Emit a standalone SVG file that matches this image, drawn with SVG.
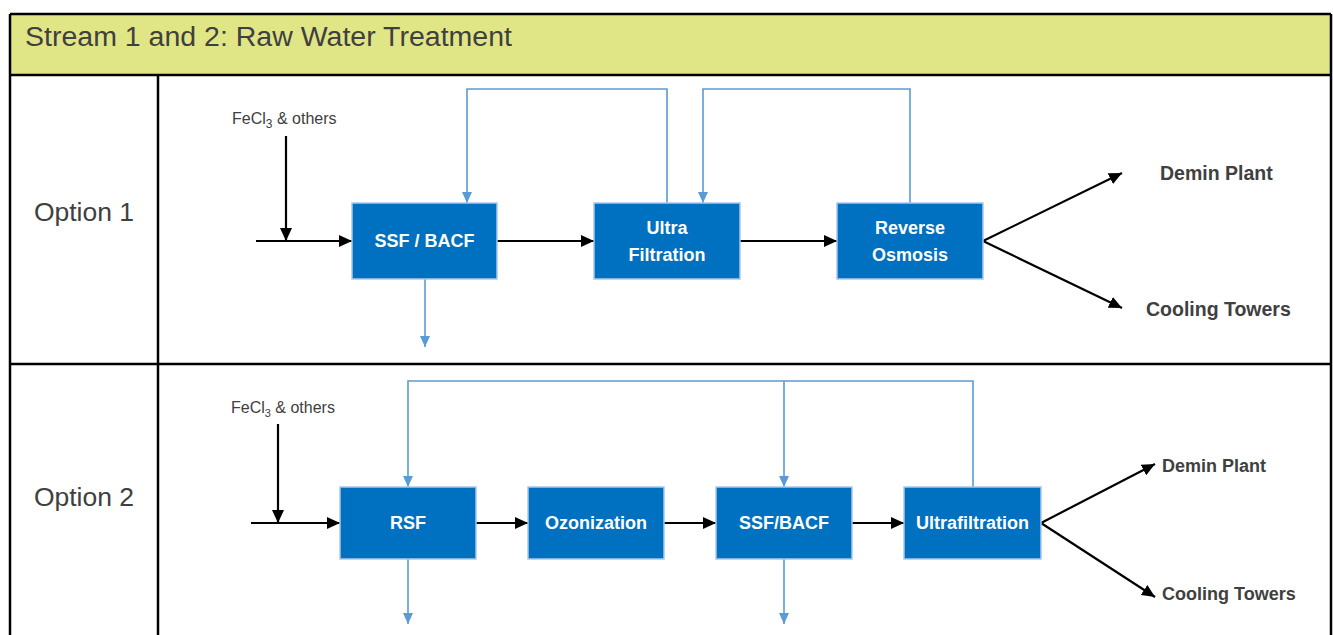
<svg xmlns="http://www.w3.org/2000/svg" width="1333" height="635" viewBox="0 0 1333 635">
  <style>
    .grid { stroke: #000; stroke-width: 2.5; fill: none; }
    .title { font-family: "Liberation Sans", Arial, sans-serif; font-size: 27px; fill: #404040; }
    .opt { font-family: "Liberation Sans", Arial, sans-serif; font-size: 26.5px; fill: #404040; text-anchor: middle; }
    .chem { font-family: "Liberation Sans", Arial, sans-serif; font-size: 16px; fill: #404040; }
    .out { font-family: "Liberation Sans", Arial, sans-serif; font-size: 18px; font-weight: bold; fill: #404040; }
    .out.big { font-size: 19.5px; }
    .box { fill: #0070C0; stroke: #A9C8EA; stroke-width: 1.5; }
    .lbl { font-family: "Liberation Sans", Arial, sans-serif; font-size: 18px; font-weight: bold; fill: #FFFFFF; text-anchor: middle; }
    .flow { stroke: #000; stroke-width: 2.2; fill: none; }
    .recycle { stroke: #5B9BD5; stroke-width: 1.6; fill: none; }
  </style>
  <defs>
    <marker id="blackHead" markerUnits="userSpaceOnUse" markerWidth="14" markerHeight="12" refX="13" refY="6" orient="auto">
      <path d="M0,0 L13,6 L0,12 Z" fill="#000"/>
    </marker>
    <marker id="blueHead" markerUnits="userSpaceOnUse" markerWidth="12" markerHeight="10" refX="11" refY="5" orient="auto">
      <path d="M0,0 L11,5 L0,10 Z" fill="#5B9BD5"/>
    </marker>
  </defs>

  <!-- table frame -->
  <g id="table">
    <rect x="10" y="14" width="1321" height="61" fill="#E0E685"/>
    <line class="grid" x1="10" y1="14" x2="1331" y2="14"/>
    <line class="grid" x1="10" y1="14" x2="10" y2="635"/>
    <line class="grid" x1="1331" y1="14" x2="1331" y2="635"/>
    <line class="grid" x1="10" y1="75" x2="1331" y2="75"/>
    <line class="grid" x1="10" y1="364" x2="1331" y2="364"/>
    <line class="grid" x1="158" y1="75" x2="158" y2="635"/>
    <text class="title" x="25" y="46" textLength="487" lengthAdjust="spacingAndGlyphs">Stream 1 and 2: Raw Water Treatment</text>
    <text class="opt" x="84" y="221">Option 1</text>
    <text class="opt" x="84" y="506">Option 2</text>
  </g>

  <!-- option 1 connectors -->
  <g id="connectors-1">
    <line class="flow" x1="256" y1="241" x2="352" y2="241" marker-end="url(#blackHead)"/>
    <line class="flow" x1="286" y1="136" x2="286" y2="241" marker-end="url(#blackHead)"/>
    <line class="flow" x1="497" y1="241" x2="594" y2="241" marker-end="url(#blackHead)"/>
    <line class="flow" x1="740" y1="241" x2="837" y2="241" marker-end="url(#blackHead)"/>
    <line class="flow" x1="983" y1="241" x2="1122" y2="173" marker-end="url(#blackHead)"/>
    <line class="flow" x1="983" y1="241" x2="1122" y2="308" marker-end="url(#blackHead)"/>
    <polyline class="recycle" points="667,203 667,89 467,89 467,203" marker-end="url(#blueHead)"/>
    <polyline class="recycle" points="910,203 910,89 703,89 703,203" marker-end="url(#blueHead)"/>
    <line class="recycle" x1="425" y1="279" x2="425" y2="347" marker-end="url(#blueHead)"/>
  </g>

  <!-- option 1 nodes -->
  <g id="o1-ssf-bacf">
    <rect class="box" x="352" y="203" width="145" height="76"/>
    <text class="lbl" x="424.5" y="247">SSF / BACF</text>
  </g>
  <g id="o1-ultra-filtration">
    <rect class="box" x="594" y="203" width="146" height="76"/>
    <text class="lbl" x="667" y="234">Ultra</text>
    <text class="lbl" x="667" y="261">Filtration</text>
  </g>
  <g id="o1-reverse-osmosis">
    <rect class="box" x="837" y="203" width="146" height="76"/>
    <text class="lbl" x="910" y="234">Reverse</text>
    <text class="lbl" x="910" y="261">Osmosis</text>
  </g>
  <g id="o1-labels">
    <text class="chem" x="232" y="124" font-size="17">FeCl<tspan font-size="12" dy="4">3</tspan><tspan dy="-4"> &amp; others</tspan></text>
    <text class="out big" x="1160" y="180">Demin Plant</text>
    <text class="out big" x="1146" y="316">Cooling Towers</text>
  </g>

  <!-- option 2 connectors -->
  <g id="connectors-2">
    <line class="flow" x1="251" y1="523" x2="340" y2="523" marker-end="url(#blackHead)"/>
    <line class="flow" x1="278" y1="424" x2="278" y2="523" marker-end="url(#blackHead)"/>
    <line class="flow" x1="476" y1="523" x2="528" y2="523" marker-end="url(#blackHead)"/>
    <line class="flow" x1="664" y1="523" x2="716" y2="523" marker-end="url(#blackHead)"/>
    <line class="flow" x1="852" y1="523" x2="904" y2="523" marker-end="url(#blackHead)"/>
    <line class="flow" x1="1041" y1="523" x2="1155" y2="464" marker-end="url(#blackHead)"/>
    <line class="flow" x1="1041" y1="523" x2="1155" y2="597" marker-end="url(#blackHead)"/>
    <polyline class="recycle" points="973,487 973,381 408,381 408,487" marker-end="url(#blueHead)"/>
    <line class="recycle" x1="784" y1="381" x2="784" y2="487" marker-end="url(#blueHead)"/>
    <line class="recycle" x1="408" y1="559" x2="408" y2="624" marker-end="url(#blueHead)"/>
    <line class="recycle" x1="784" y1="559" x2="784" y2="624" marker-end="url(#blueHead)"/>
  </g>

  <!-- option 2 nodes -->
  <g id="o2-rsf">
    <rect class="box" x="340" y="487" width="136" height="72"/>
    <text class="lbl" x="408" y="529">RSF</text>
  </g>
  <g id="o2-ozonization">
    <rect class="box" x="528" y="487" width="136" height="72"/>
    <text class="lbl" x="596" y="529">Ozonization</text>
  </g>
  <g id="o2-ssf-bacf">
    <rect class="box" x="716" y="487" width="136" height="72"/>
    <text class="lbl" x="784" y="529">SSF/BACF</text>
  </g>
  <g id="o2-ultrafiltration">
    <rect class="box" x="904" y="487" width="137" height="72"/>
    <text class="lbl" x="972.5" y="529">Ultrafiltration</text>
  </g>
  <g id="o2-labels">
    <text class="chem" x="231" y="413">FeCl<tspan font-size="11" dy="4">3</tspan><tspan dy="-4"> &amp; others</tspan></text>
    <text class="out" x="1162" y="472">Demin Plant</text>
    <text class="out" x="1162" y="600">Cooling Towers</text>
  </g>
</svg>
